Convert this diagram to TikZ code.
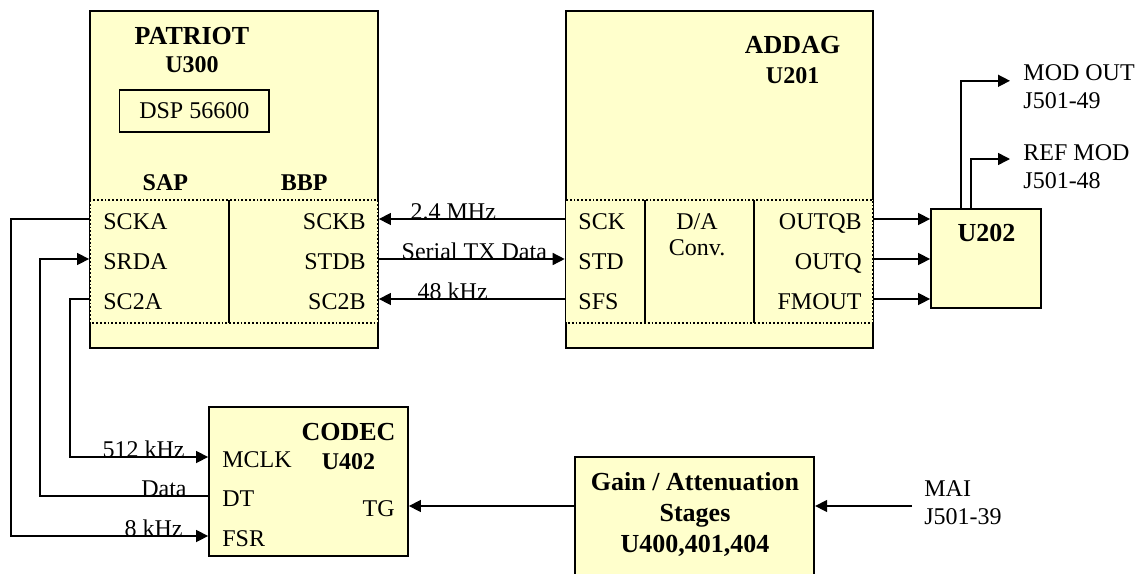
\documentclass[tikz,border=0pt]{standalone}
\usepackage{fontspec}
\setmainfont{Liberation Serif}
\usetikzlibrary{arrows.meta}
\definecolor{chipfill}{HTML}{FFFFCC}

\begin{document}
\begin{tikzpicture}[x=0.5pt, y=-0.5pt,
  chip/.style={draw, line width=0.9pt, fill=chipfill, inner sep=0pt},
  title/.style={font=\bfseries\fontsize{13}{15.5}\selectfont, inner sep=0pt, anchor=base},
  subtitle/.style={font=\bfseries\fontsize{12}{14}\selectfont, inner sep=0pt, anchor=base},
  pin/.style={font=\fontsize{12}{14}\selectfont, inner sep=0pt, text height=10pt, text depth=0pt},
  sig/.style={font=\fontsize{12}{14}\selectfont, inner sep=0pt},
  jack/.style={font=\fontsize{12}{13.75}\selectfont, inner sep=0pt, align=left, anchor=base west},
  wire/.style={line width=0.75pt},
  arr/.style={wire, -{Triangle[length=6pt,width=6pt]}},
  part/.style={densely dotted, line width=0.9pt},
  split/.style={line width=0.9pt}]

\clip (0,0) rectangle (1140,573);

% boxes
\node[chip, minimum width=144pt, minimum height=168.5pt] (patriot) at (234,179.5) {};
\node[chip, minimum width=153.7pt, minimum height=168.5pt] (addag) at (719.3,179.5) {};
\node[chip, minimum width=55pt, minimum height=49.5pt] (u202) at (986,258.5) {};
\node[chip, minimum width=99.5pt, minimum height=74.5pt] (codec) at (308.5,481.5) {};
\node[chip, minimum width=119.5pt, minimum height=71.5pt] (gain) at (694.75,528.5) {};

% serial port areas
\filldraw[part, fill=chipfill] (90,200) rectangle (378,323);
\draw[split] (229,200) -- (229,323);
\filldraw[part, fill=chipfill] (565.5,200) rectangle (873,323);
\draw[split] (645,200) -- (645,323);
\draw[split] (754,200) -- (754,323);

% PATRIOT
\node[title] (patriotlbl) at (192,44.3) {PATRIOT};
\node[subtitle] (u300) at (192,72.7) {U300};
\node[draw, line width=0.7pt, sig, minimum width=74.75pt, minimum height=21pt] (dsp) at (194.3,111) {DSP 56600};
\node[subtitle] (sap) at (165.4,190) {SAP};
\node[subtitle] (bbp) at (304.3,190) {BBP};
\node[pin, anchor=base west] (scka) at (103,229) {SCKA};
\node[pin, anchor=base west] (srda) at (103,269) {SRDA};
\node[pin, anchor=base west] (sc2a) at (103,309) {SC2A};
\node[pin, anchor=base east] (sckb) at (366,229) {SCKB};
\node[pin, anchor=base east] (stdb) at (366,269) {STDB};
\node[pin, anchor=base east] (sc2b) at (366,309) {SC2B};

% ADDAG
\node[title] (addaglbl) at (792.6,54) {ADDAG};
\node[subtitle] (u201) at (792.6,83.3) {U201};
\node[pin, anchor=base west] (sck) at (578,229) {SCK};
\node[pin, anchor=base west] (std) at (578,269) {STD};
\node[pin, anchor=base west] (sfs) at (578,309) {SFS};
\node[sig, align=center, font=\fontsize{12}{13}\selectfont, anchor=base] (dac) at (697,255.7) {D/A\\Conv.};
\node[pin, anchor=base east] (outqb) at (862,229) {OUTQB};
\node[pin, anchor=base east] (outq) at (862,269) {OUTQ};
\node[pin, anchor=base east] (fmout) at (862,309) {FMOUT};

% U202
\node[title] (u202lbl) at (986.6,241.7) {U202};
\node[jack] (modout) at (1023,108) {MOD OUT\\J501-49};
\node[jack] (refmod) at (1023,188) {REF MOD\\J501-48};

% CODEC
\node[title] (codeclbl) at (348.5,440.7) {CODEC};
\node[subtitle] (u402) at (348.5,469.3) {U402};
\node[pin, anchor=base west] (mclk) at (222,467) {MCLK};
\node[pin, anchor=base west] (dt) at (222,506) {DT};
\node[pin, anchor=base west] (fsr) at (222,546) {FSR};
\node[pin, anchor=base east] (tg) at (395,516) {TG};

% gain stages
\node[title, align=center] (gainlbl) at (695,552) {Gain / Attenuation\\Stages\\U400,401,404};
\node[jack] (mai) at (924,524) {MAI\\J501-39};
\coordinate (maiin) at ([xshift=-6pt,yshift=9pt]mai.base west);

% connections
\draw[arr] (addag.west |- sck) -- (patriot.east |- sckb);
\draw[arr] (patriot.east |- stdb) -- (addag.west |- std);
\draw[arr] (addag.west |- sfs) -- (patriot.east |- sc2b);
\draw[arr] (addag.east |- outqb) -- (u202.west |- outqb);
\draw[arr] (addag.east |- outq) -- (u202.west |- outq);
\draw[arr] (addag.east |- fmout) -- (u202.west |- fmout);
\draw[arr] ([xshift=15.5pt]u202.north west) |- ([xshift=-6.5pt,yshift=13.6pt]modout.base west);
\draw[arr] ([xshift=20.5pt]u202.north west) |- ([xshift=-6.5pt,yshift=14.5pt]refmod.base west);
\draw[arr] (maiin) -- (gain.east |- maiin);
\draw[arr] (gain.west |- tg) -- (codec.east |- tg);
\draw[arr] (patriot.west |- scka) -- ++(-78.3,0) |- (codec.west |- fsr);
\draw[arr] (codec.west |- dt) -- ++(-168.3,0) |- (patriot.west |- srda);
\draw[arr] (patriot.west |- sc2a) -- ++(-19.3,0) |- (codec.west |- mclk);

% wire labels
\node[sig, anchor=base] (f24) at (453.3,219) {2.4 MHz};
\node[sig, anchor=base] (txdata) at (474.3,259) {Serial TX Data};
\node[sig, anchor=base] (f48) at (452.7,299) {48 kHz};
\node[sig, anchor=base east] (f512) at (185,457) {512 kHz};
\node[sig, anchor=base east] (datalbl) at (187,496) {Data};
\node[sig, anchor=base east] (f8) at (183,536) {8 kHz};

\end{tikzpicture}
\end{document}
